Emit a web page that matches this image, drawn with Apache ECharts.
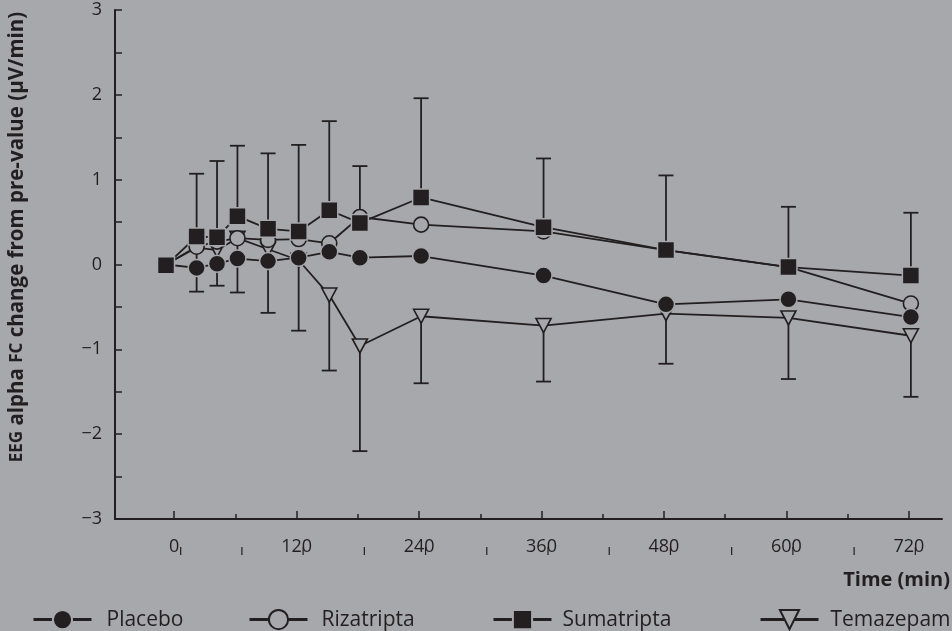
<!DOCTYPE html>
<html><head><meta charset="utf-8">
<script src="https://cdn.jsdelivr.net/npm/echarts@6/dist/echarts.min.js"></script>
<style>html,body{margin:0;padding:0;background:#a7a8ab}#c{width:952px;height:631px}</style>
</head><body><div id="c"></div>
<script>
// ---- data ----
const times      = [-8, 22, 42, 62, 92, 122, 152, 182, 242, 362, 482, 602, 722];
const placebo    = [0, -0.04, 0.01, 0.07, 0.04, 0.08, 0.15, 0.08, 0.10, -0.13, -0.47, -0.41, -0.62];
const rizatripta = [0, 0.21, 0.27, 0.31, 0.29, 0.30, 0.25, 0.56, 0.47, 0.39, 0.17, -0.03, -0.46];
const sumatripta = [-0.01, 0.33, 0.32, 0.57, 0.42, 0.39, 0.64, 0.49, 0.79, 0.44, 0.17, -0.03, -0.13];
const temazepam  = [0, 0.20, 0.17, 0.31, 0.18, 0.05, -0.36, -0.96, -0.61, -0.72, -0.58, -0.63, -0.84];
const sumaUpper  = [null, 1.07, 1.22, 1.40, 1.31, 1.41, 1.69, 1.16, 1.96, 1.25, 1.05, 0.68, 0.61];
const temaLower  = [null, -0.32, -0.25, -0.33, -0.57, -0.78, -1.25, -2.20, -1.40, -1.38, -1.17, -1.35, -1.56];
const xMajorTicks = [0, 120, 240, 360, 480, 600, 720];
const xMinorTicks = [60, 180, 300, 420, 540, 660];
const xStrayMarks = [0, 60, 120, 180, 240, 300, 360, 420, 480, 540, 600, 660, 720];
const yTitle = 'EEG alpha FC change from pre-value (µV/min)';
const xTitle = 'Time (min)';

const DARK = '#231f20', BG = '#a7a8ab', FONT = 'Open Sans';
const chart = echarts.init(document.getElementById('c'));

function pairs(ys) { return times.map((t, i) => [t, ys[i]]); }
function bars(base, ends) {
  const out = [];
  times.forEach((t, i) => { if (ends[i] !== null) out.push([t, base[i], ends[i]]); });
  return out;
}
function renderBar(params, api) {
  const x = api.value(0);
  const a = api.coord([x, api.value(1)]);
  const b = api.coord([x, api.value(2)]);
  const st = { stroke: DARK, lineWidth: 1.8 };
  return { type: 'group', children: [
    { type: 'line', shape: { x1: a[0], y1: a[1], x2: b[0], y2: b[1] }, style: st },
    { type: 'line', shape: { x1: b[0] - 7.5, y1: b[1], x2: b[0] + 7.5, y2: b[1] }, style: st }
  ]};
}
const xCommon = { type: 'value', min: -58, max: 752.5, splitLine: { show: false } };
function legendFor(name, left, pad) {
  return { data: [name], left: left, top: 604, itemWidth: 58, itemHeight: 24,
    lineStyle: { width: 3 },
    textStyle: { fontFamily: FONT, fontSize: 21, color: DARK, padding: [0, 0, 0, pad] } };
}
const lineBase = { type: 'line', z: 3, lineStyle: { color: DARK, width: 1.8 }, emphasis: { disabled: true }, animation: false };

chart.setOption({
  backgroundColor: BG,
  animation: false,
  grid: { left: 115, right: 10, top: 10, bottom: 112 },
  xAxis: [
    Object.assign({}, xCommon, {
      axisLine: { onZero: false, lineStyle: { color: DARK, width: 2 } },
      axisTick: { customValues: xMajorTicks, inside: true, length: 8, lineStyle: { color: DARK, width: 1.5 } },
      axisLabel: { customValues: xMajorTicks, color: DARK, fontFamily: FONT, fontSize: 18, margin: 19 }
    }),
    Object.assign({}, xCommon, {
      position: 'bottom',
      axisLine: { show: false, onZero: false },
      axisTick: { customValues: xMinorTicks, inside: true, length: 5, lineStyle: { color: DARK, width: 1.5 } },
      axisLabel: { customValues: xStrayMarks, margin: 28, padding: [0, 0, 0, 13],
        formatter: () => '{b| }', rich: { b: { width: 1.2, height: 8, backgroundColor: DARK } } }
    })
  ],
  yAxis: {
    type: 'value', min: -3, max: 3, interval: 0.5, splitLine: { show: false },
    axisLine: { onZero: false, lineStyle: { color: DARK, width: 2 } },
    axisTick: { inside: true, length: 7, lineStyle: { color: DARK, width: 1.5 } },
    axisLabel: { color: DARK, fontFamily: FONT, fontSize: 18, margin: 13,
      formatter: v => (Number.isInteger(v) ? (v < 0 ? '\u2212' + (-v) : String(v)) : '') }
  },
  legend: [
    legendFor('Placebo', 27, 10),
    legendFor('Rizatripta', 243, 9),
    legendFor('Sumatripta', 487, 6),
    legendFor('Temazepam', 754, 7)
  ],
  graphic: [
    { type: 'text', x: 17, y: 237, rotation: Math.PI / 2,
      style: { text: yTitle.replace('EEG', '{sc|EEG}').replace(' FC ', ' {sc|FC} '),
        fontFamily: FONT, fontWeight: 'bold', fontSize: 20.5, fill: DARK, align: 'center', verticalAlign: 'middle',
        rich: { sc: { fontFamily: FONT, fontWeight: 'bold', fontSize: 17, fill: DARK } } } },
    { type: 'text', x: 950, y: 580,
      style: { text: xTitle, fontFamily: FONT, fontWeight: 'bold', fontSize: 20, fill: DARK, align: 'right', verticalAlign: 'middle' } }
  ],
  series: [
    { type: 'custom', name: 'upperBars', z: 1, clip: false, renderItem: renderBar, data: bars(sumatripta, sumaUpper), encode: { x: 0, y: [1, 2] }, silent: true },
    { type: 'custom', name: 'lowerBars', z: 1, clip: false, renderItem: renderBar, data: bars(temazepam, temaLower), encode: { x: 0, y: [1, 2] }, silent: true },
    Object.assign({}, lineBase, { name: 'Temazepam', data: pairs(temazepam), symbol: 'triangle', symbolRotate: 180, symbolSize: [15, 14],
      itemStyle: { color: BG, borderColor: DARK, borderWidth: 1.6 } }),
    Object.assign({}, lineBase, { name: 'Rizatripta', data: pairs(rizatripta), symbol: 'circle', symbolSize: 15,
      itemStyle: { color: BG, borderColor: DARK, borderWidth: 1.6 } }),
    Object.assign({}, lineBase, { name: 'Placebo', data: pairs(placebo), symbol: 'circle', symbolSize: 17,
      itemStyle: { color: DARK, borderColor: BG, borderWidth: 1.5 } }),
    Object.assign({}, lineBase, { name: 'Sumatripta', data: pairs(sumatripta), symbol: 'rect', symbolSize: 17,
      itemStyle: { color: DARK, borderColor: BG, borderWidth: 1.5 } })
  ]
});
</script></body></html>
